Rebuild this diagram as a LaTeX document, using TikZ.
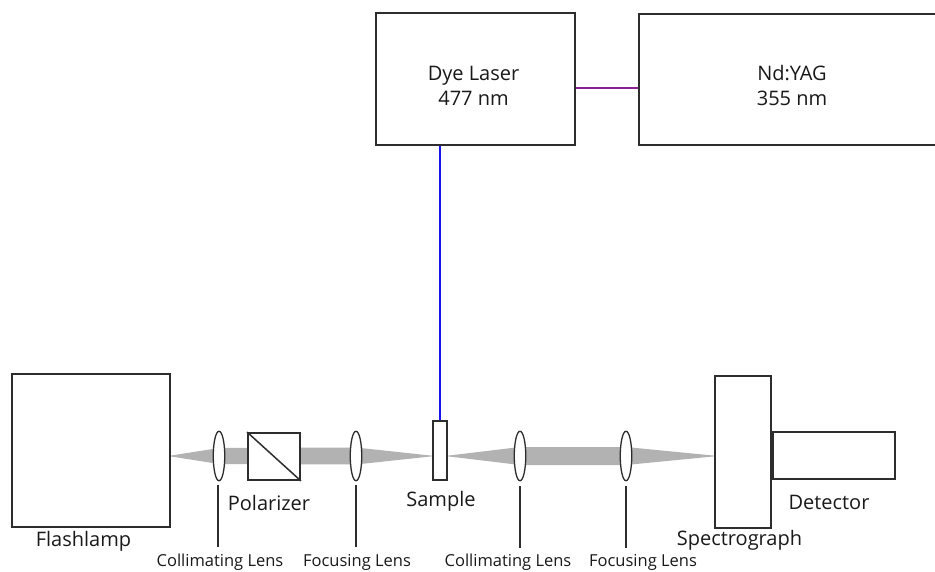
\documentclass[tikz,border=0pt]{standalone}
\usepackage{fontspec}
\setmainfont{Open Sans}
\definecolor{laserblue}{RGB}{20,20,240}
\definecolor{pumppurple}{RGB}{140,30,150}
\definecolor{inkgrey}{RGB}{45,45,45}
\tikzset{
  px/.style={x=1pt,y=-1pt},
  box/.style={draw=inkgrey,line width=1.8pt,fill=white,inner sep=0pt,minimum width=#1},
  lens/.style={draw=inkgrey,line width=1.3pt,fill=white,ellipse,inner sep=0pt,minimum width=11.5pt,minimum height=49.5pt},
  stem/.style={draw=inkgrey,line width=1.4pt},
  beam/.style={fill=black!30,draw=none},
  lab/.style={text=black!90,font=\fontsize{20}{25}\selectfont,inner sep=0pt,align=center},
  small/.style={text=black!90,font=\fontsize{16.5}{18}\selectfont,inner sep=0pt},
}
\usetikzlibrary{shapes.geometric,calc}
\newcommand{\bx}[6][]{\node[box=#5pt,minimum height=#6pt,anchor=north west,#1] (#2) at (#3-0.9,#4-0.9) {};}
\begin{document}
\begin{tikzpicture}[px]
\useasboundingbox (0,0) rectangle (935,571);
% beams
\fill[beam] (168,456) -- (219,448) -- (356,447.5) -- (356,464.5) -- (219,464) -- cycle;
\fill[beam] (356,447.5) -- (435,456) -- (356,464.5) -- cycle;
\fill[beam] (445,456) -- (520,447) -- (626,447) -- (718,456) -- (626,465) -- (520,465) -- cycle;
% boxes
\bx{dye}{376}{13}{199}{132}
\bx{yag}{639}{14}{298}{131}
\bx{flash}{12}{374}{158}{153}
\bx{pol}{248}{433}{52}{47}
\bx{sample}{433}{421}{14}{59}
\bx{spec}{715}{376}{56}{152}
\bx{det}{773}{432}{122}{47}
\draw[line width=1.5pt,inkgrey] (pol.north west) -- (pol.south east);
% lenses
\node[lens] (l1) at (219,456) {};
\node[lens] (l2) at (356,456) {};
\node[lens] (l3) at (520,456) {};
\node[lens] (l4) at (626,456) {};
% stems
\coordinate (s1) at (218,547);
\coordinate (s2) at (356,547);
\coordinate (s3) at (520,548);
\coordinate (s4) at (626,548);
\coordinate (t1) at (218,485);
\coordinate (t2) at (356,485);
\coordinate (t3) at (520,486);
\coordinate (t4) at (626,486);
\draw[stem] (t1) -- (s1);
\draw[stem] (t2) -- (s2);
\draw[stem] (t3) -- (s3);
\draw[stem] (t4) -- (s4);
% laser lines
\draw[line width=1.7pt,color=laserblue] (dye.south -| 440.2,0) -- (sample.north -| 440.2,0);
\draw[line width=1.2pt,color=pumppurple] ($(dye.east)+(0,9)$) -- ($(yag.west)+(0,8.5)$);
% labels
\node[lab] (tdye) at (473.5,85.5) {Dye Laser\\477 nm};
\node[lab] (tyag) at (792,85.5) {Nd:YAG\\355 nm};
\node[lab] (tflash) at (83.5,541) {Flashlamp};
\node[lab] (tpol) at (269,502.5) {Polarizer};
\node[lab] (tsam) at (441,501) {Sample};
\node[lab] (tdet) at (829,502) {Detector};
\node[lab] (tspec) at (739.5,540.5) {Spectrograph};
\node[small] (c1) at (220,562.5) {Collimating Lens};
\node[small] (c2) at (357,562.5) {Focusing Lens};
\node[small] (c3) at (508,562.5) {Collimating Lens};
\node[small] (c4) at (643,562.5) {Focusing Lens};
\end{tikzpicture}
\end{document}
